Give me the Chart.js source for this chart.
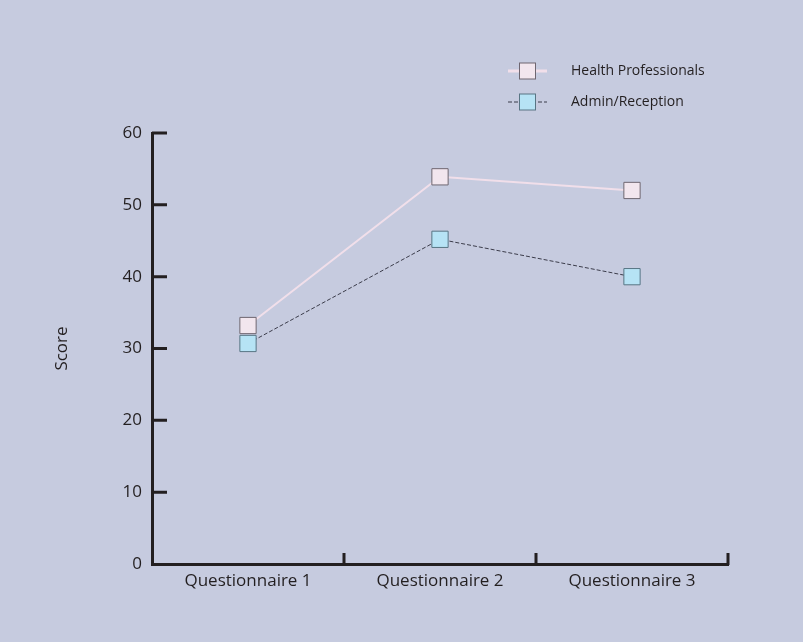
<!DOCTYPE html>
<html>
<head>
<meta charset="utf-8">
<script src="https://cdn.jsdelivr.net/npm/chart.js@4"></script>
<style>
  html, body { margin: 0; padding: 0; background: #c6cbdf; }
  #wrap { width: 803px; height: 642px; }
</style>
</head>
<body>
<div id="wrap"><canvas id="scoreChart" width="803" height="642"></canvas></div>
<script>
// data
const questionnaires = ['Questionnaire 1', 'Questionnaire 2', 'Questionnaire 3'];
const healthScores = [33.2, 53.9, 52.0];
const adminScores = [30.7, 45.2, 40.0];
const yTicks = [0, 10, 20, 30, 40, 50, 60];

const INK = '#231f20';
const FONT = "'Open Sans', sans-serif";

// tick marks point into the plot, so draw them by hand from the scales
const innerTicks = {
    id: 'innerTicks',
    afterDraw(chart) {
        const ctx = chart.ctx;
        const x = chart.scales.x, y = chart.scales.y;
        ctx.save();
        ctx.strokeStyle = INK;
        ctx.lineWidth = 3;
        ctx.beginPath();
        yTicks.forEach(v => {
            if (v === 0) return;
            const py = y.getPixelForValue(v);
            ctx.moveTo(x.left, py);
            ctx.lineTo(x.left + 15, py);
        });
        const step = (x.right - x.left) / questionnaires.length;
        for (let i = 1; i <= questionnaires.length; i++) {
            const px = x.left + step * i;
            ctx.moveTo(px, y.bottom + 1);
            ctx.lineTo(px, y.bottom - 11);
        }
        ctx.stroke();
        ctx.restore();
    }
};

// legend with the line sample through the marker
const lineLegend = {
    id: 'lineLegend',
    afterDraw(chart) {
        const ctx = chart.ctx;
        ctx.save();
        chart.data.datasets.forEach((ds, i) => {
            const cy = 71 + i * 31;
            ctx.strokeStyle = ds.borderColor;
            ctx.lineWidth = ds.borderWidth + (i === 0 ? 1 : 0);
            ctx.setLineDash(ds.borderDash || []);
            ctx.beginPath();
            ctx.moveTo(508, cy);
            ctx.lineTo(547, cy);
            ctx.stroke();
            ctx.setLineDash([]);
            ctx.fillStyle = ds.pointBackgroundColor;
            ctx.strokeStyle = ds.pointBorderColor;
            ctx.lineWidth = 1;
            ctx.fillRect(519.5, cy - 8, 16, 16);
            ctx.strokeRect(519.5, cy - 8, 16, 16);
            ctx.fillStyle = INK;
            ctx.font = "14px " + FONT;
            ctx.textBaseline = 'middle';
            ctx.fillText(ds.label, 571, cy);
        });
        ctx.restore();
    }
};

new Chart(document.getElementById('scoreChart'), {
    type: 'line',
    data: {
        labels: questionnaires,
        datasets: [{
            label: 'Health Professionals',
            data: healthScores,
            borderColor: '#f1dfea',
            borderWidth: 2,
            pointStyle: 'rect',
            pointRadius: 11.5,
            pointBackgroundColor: '#f2e6ee',
            pointBorderColor: '#6e6670',
            pointBorderWidth: 1
        }, {
            label: 'Admin/Reception',
            data: adminScores,
            borderColor: '#3b3c4a',
            borderWidth: 1,
            borderDash: [4, 2],
            pointStyle: 'rect',
            pointRadius: 11.5,
            pointBackgroundColor: '#b6e3f5',
            pointBorderColor: '#587584',
            pointBorderWidth: 1
        }]
    },
    options: {
        responsive: false,
        animation: false,
        layout: { padding: { left: 0, top: 133, right: 75, bottom: 0 } },
        plugins: { legend: { display: false }, tooltip: { enabled: false } },
        scales: {
            x: {
                offset: true,
                grid: { display: false, drawTicks: false },
                border: { color: INK, width: 3 },
                ticks: { color: INK, font: { family: FONT, size: 17 }, padding: 7 },
                afterFit(s) { s.height = 78; }
            },
            y: {
                min: 0, max: 60,
                grid: { display: false, drawTicks: false },
                border: { color: INK, width: 3 },
                ticks: { stepSize: 10, color: INK, font: { family: FONT, size: 17 }, padding: 10 },
                title: { display: true, text: 'Score', color: INK, font: { family: FONT, size: 17 }, padding: { top: 52, bottom: 0 } },
                afterFit(s) { s.width = 152; }
            }
        }
    },
    plugins: [innerTicks, lineLegend]
});
</script>
</body>
</html>
